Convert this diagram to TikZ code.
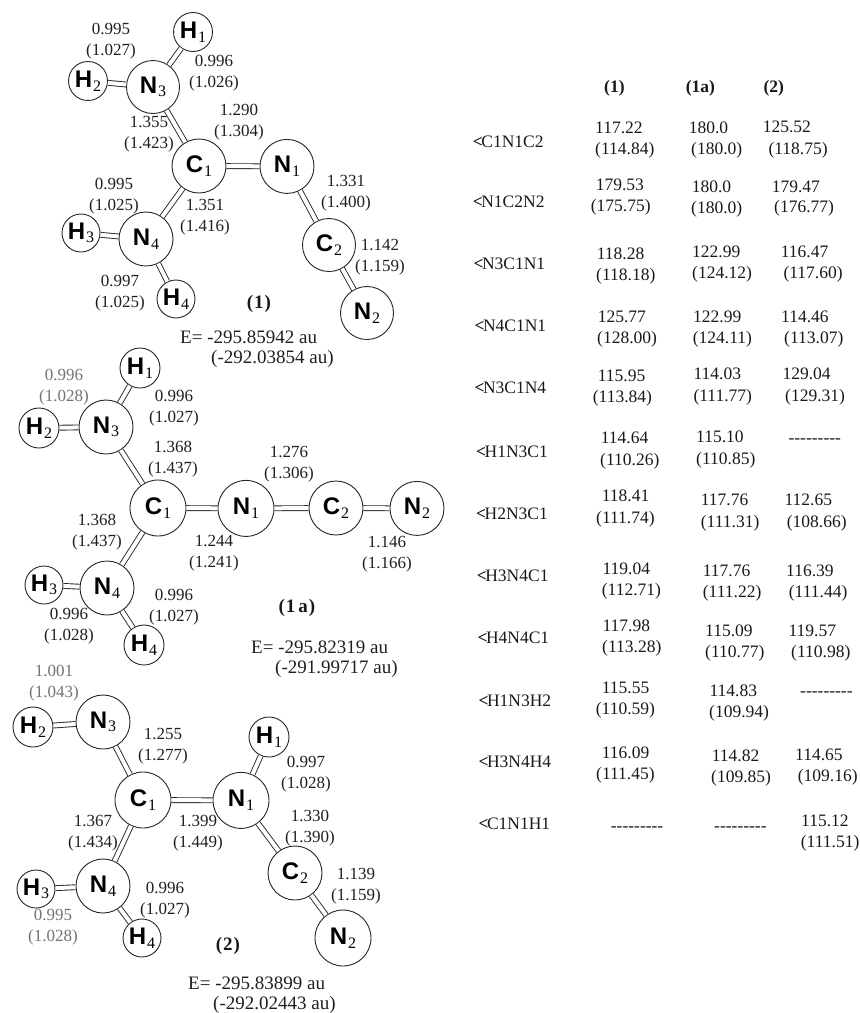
\documentclass[tikz,border=0pt]{standalone}
\usepackage{fontspec}
\setmainfont{Liberation Serif}
\setsansfont{Liberation Sans}
\newcount\tvn
\tikzset{
  atomnode/.style={circle,draw=black!85,line width=0.9pt,fill=white,inner sep=0pt},
  bondline/.style={draw=black!85,line width=0.9pt,double=white,double distance=4pt},
  lbl/.style={inner sep=0pt,align=center,text=black!88,font=\fontsize{17}{20.5}\selectfont},
  lblfade/.style={lbl,text=black!55},
  tabval/.style={inner sep=0pt,anchor=base west,text=black!90,font=\fontsize{17.5}{20}\selectfont},
  energy/.style={inner sep=0pt,anchor=base west,text=black!88,font=\fontsize{19}{22}\selectfont},
  cmpd/.style={inner sep=0pt,text=black!90,font=\fontsize{19}{22}\selectfont\bfseries}
}
\newcommand{\atm}[6]{\node[atomnode,minimum size=#4*2pt] (#1) at (#2,#3)
  {{\fontsize{24}{24}\selectfont\sffamily\bfseries #5}\kern1pt\raisebox{-3.5pt}{\fontsize{16}{16}\selectfont #6}};}
\newcommand{\bl}[5][lbl]{\global\advance\tvn by 1 \node[#1] (l\the\tvn) at (#2,#3) {#4\\(#5)};}
\def\oy{60}
\newcommand{\tv}[3]{\global\advance\tvn by 1 \node[tabval] (t\the\tvn) at ({460+#1/3},{\oy+#2/3+6}) {#3};}
\newcommand{\dsh}{-{}-{}-{}-{}-{}-{}-{}-{}-}
\newcommand{\ang}{\textbf{<}\kern-1.5pt}
\begin{document}
\begin{tikzpicture}[x=1pt,y=-1pt]
\useasboundingbox (0,0) rectangle (860,1013);
% --- structure (1)
\atm{aHa}{193}{32}{19.5}{H}{1}
\atm{aHb}{88}{81}{19.5}{H}{2}
\atm{aNc}{153}{87}{26.5}{N}{3}
\atm{aCa}{199}{166}{27}{C}{1}
\atm{aNa}{287}{166.4}{27}{N}{1}
\atm{aNd}{146}{239}{27}{N}{4}
\atm{aHc}{81}{233}{19}{H}{3}
\atm{aHd}{176}{299}{19}{H}{4}
\atm{aCb}{329}{245}{26.5}{C}{2}
\atm{aNb}{367}{313}{26.5}{N}{2}
\foreach \p/\q in {aHa/aNc,aHb/aNc,aNc/aCa,aCa/aNa,aCa/aNd,aNd/aHc,aNd/aHd,aNa/aCb,aCb/aNb}
  \draw[bondline] (\p) -- (\q);
\bl{111}{41}{0.995}{1.027}
\bl{214}{73}{0.996}{1.026}
\bl{149}{134}{1.355}{1.423}
\bl{239}{122}{1.290}{1.304}
\bl{114}{196}{0.995}{1.025}
\bl{205}{217}{1.351}{1.416}
\bl{346}{193}{1.331}{1.400}
\bl{380}{257}{1.142}{1.159}
\bl{120}{293}{0.997}{1.025}
\node[cmpd] (nameA) at (259,304) {(\kern1pt1\kern1pt)};
\node[energy] (eAa) at (180,343) {E= -295.85942 au};
\node[energy] (eAb) at (211,363) {(-292.03854 au)};
% --- structure (1a)
\atm{bHa}{140}{368}{20}{H}{1}
\atm{bHb}{39}{428}{20}{H}{2}
\atm{bNc}{106}{427}{27}{N}{3}
\atm{bCa}{158}{508}{28}{C}{1}
\atm{bNa}{246}{508.4}{28}{N}{1}
\atm{bCb}{336}{508}{27}{C}{2}
\atm{bNb}{417}{508.4}{27}{N}{2}
\atm{bNd}{107}{588}{27}{N}{4}
\atm{bHc}{44}{585}{19}{H}{3}
\atm{bHd}{144}{645}{20}{H}{4}
\foreach \p/\q in {bHa/bNc,bHb/bNc,bNc/bCa,bCa/bNa,bNa/bCb,bCb/bNb,bCa/bNd,bNd/bHc,bNd/bHd}
  \draw[bondline] (\p) -- (\q);
\bl[lblfade]{64}{387}{0.996}{1.028}
\bl{174}{408}{0.996}{1.027}
\bl{173}{459}{1.368}{1.437}
\bl{289}{464}{1.276}{1.306}
\bl{97}{532}{1.368}{1.437}
\bl{214}{553}{1.244}{1.241}
\bl{387}{554}{1.146}{1.166}
\bl{174}{607}{0.996}{1.027}
\bl{69}{626}{0.996}{1.028}
\node[cmpd] (nameB) at (297,608) {(\kern1pt1\kern3pt a\kern1pt)};
\node[energy] (eBa) at (251,653) {E= -295.82319 au};
\node[energy] (eBb) at (275,673) {(-291.99717 au)};
% --- structure (2)
\atm{cHb}{33}{727}{20}{H}{2}
\atm{cNc}{103}{722}{27}{N}{3}
\atm{cCa}{143}{800}{28}{C}{1}
\atm{cNa}{241}{800.4}{28}{N}{1}
\atm{cHa}{269}{737}{20}{H}{1}
\atm{cCb}{295}{873}{27}{C}{2}
\atm{cNb}{343}{938}{28}{N}{2}
\atm{cNd}{103}{886}{27}{N}{4}
\atm{cHc}{36}{889}{19}{H}{3}
\atm{cHd}{142}{938}{19}{H}{4}
\foreach \p/\q in {cHb/cNc,cNc/cCa,cCa/cNa,cNa/cHa,cNa/cCb,cCb/cNb,cCa/cNd,cNd/cHc,cNd/cHd}
  \draw[bondline] (\p) -- (\q);
\bl[lblfade]{54}{683}{1.001}{1.043}
\bl{163}{746}{1.255}{1.277}
\bl{306}{774}{0.997}{1.028}
\bl{310}{828}{1.330}{1.390}
\bl{93}{833}{1.367}{1.434}
\bl{198}{833}{1.399}{1.449}
\bl{356}{886}{1.139}{1.159}
\bl{165}{900}{0.996}{1.027}
\bl[lblfade]{53}{927}{0.995}{1.028}
\node[cmpd] (nameC) at (228,946) {(\kern1pt2\kern1pt)};
\node[energy] (eCa) at (188,989) {E= -295.83899 au};
\node[energy] (eCb) at (213,1009) {(-292.02443 au)};
% --- table, upper part
\def\oy{60}
\tv{432}{80}{\textbf{(1)}}\tv{677}{80}{\textbf{(1a)}}\tv{910}{80}{\textbf{(2)}}
\tv{38}{243}{\ang C1N1C2}
\tv{405}{202}{117.22}\tv{405}{264}{(114.84)}\tv{686}{202}{180.0}\tv{693}{264}{(180.0)}\tv{908}{200}{125.52}\tv{925}{264}{(118.75)}
\tv{38}{425}{\ang N1C2N2}
\tv{407}{374}{179.53}\tv{392}{437}{(175.75)}\tv{695}{380}{180.0}\tv{693}{442}{(180.0)}\tv{935}{378}{179.47}\tv{942}{440}{(176.77)}
\tv{40}{610}{\ang N3C1N1}
\tv{410}{580}{118.28}\tv{408}{642}{(118.18)}\tv{696}{574}{122.99}\tv{696}{637}{(124.12)}\tv{962}{574}{116.47}\tv{970}{637}{(117.60)}
\tv{43}{797}{\ang N4C1N1}
\tv{413}{770}{125.77}\tv{411}{833}{(128.00)}\tv{699}{770}{122.99}\tv{698}{833}{(124.11)}\tv{963}{770}{114.46}\tv{972}{833}{(113.07)}
\tv{43}{983}{\ang N3C1N4}
\tv{413}{945}{115.95}\tv{398}{1010}{(113.84)}\tv{700}{940}{114.03}\tv{700}{1005}{(111.77)}\tv{967}{940}{129.04}\tv{975}{1005}{(129.31)}
\tv{422}{1133}{114.64}\tv{708}{1128}{115.10}\tv{985}{1132}{\dsh}
% --- table, lower part
\def\oy{440}
\tv{48}{33}{\ang H1N3C1}
\tv{420}{58}{(110.26)}\tv{708}{55}{(110.85)}
\tv{48}{220}{\ang H2N3C1}
\tv{425}{167}{118.41}\tv{408}{232}{(111.74)}\tv{722}{178}{117.76}\tv{722}{243}{(111.31)}\tv{973}{177}{112.65}\tv{980}{243}{(108.66)}
\tv{50}{407}{\ang H3N4C1}
\tv{427}{385}{119.04}\tv{425}{448}{(112.71)}\tv{728}{390}{117.76}\tv{728}{455}{(111.22)}\tv{978}{390}{116.39}\tv{986}{453}{(111.44)}
\tv{52}{593}{\ang H4N4C1}
\tv{427}{556}{117.98}\tv{426}{620}{(113.28)}\tv{735}{570}{115.09}\tv{735}{633}{(110.77)}\tv{985}{570}{119.57}\tv{993}{633}{(110.98)}
\tv{55}{780}{\ang H1N3H2}
\tv{425}{742}{115.55}\tv{407}{806}{(110.59)}\tv{748}{750}{114.83}\tv{747}{815}{(109.94)}\tv{1020}{752}{\dsh}
\tv{55}{965}{\ang H3N4H4}
\tv{425}{937}{116.09}\tv{408}{1000}{(111.45)}\tv{755}{945}{114.82}\tv{753}{1010}{(109.85)}\tv{1005}{943}{114.65}\tv{1013}{1007}{(109.16)}
\tv{55}{1150}{\ang C1N1H1}
\tv{452}{1155}{\dsh}\tv{762}{1155}{\dsh}\tv{1023}{1140}{115.12}\tv{1022}{1203}{(111.51)}
\end{tikzpicture}
\end{document}
